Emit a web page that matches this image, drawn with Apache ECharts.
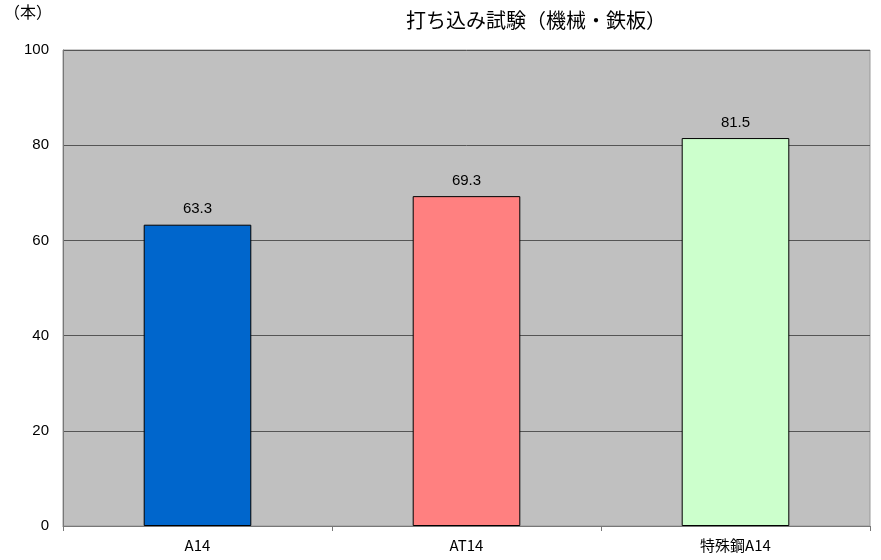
<!DOCTYPE html>
<html><head><meta charset="utf-8">
<script src="https://cdn.jsdelivr.net/npm/echarts@6/dist/echarts.min.js"></script>
<style>html,body{margin:0;padding:0;background:#fff}#c{width:881px;height:560px}</style>
</head><body><div id="c"></div>
<script>
const categories = ['A14', 'AT14', '特殊鋼A14'];
const values = [63.3, 69.3, 81.5];
const barColors = ['#0066CC', '#FF8080', '#CCFFCC'];
const yTicks = [0, 20, 40, 60, 80, 100];

const chart = echarts.init(document.getElementById('c'));
const font = '"Noto Sans CJK JP", "Liberation Sans", sans-serif';
const numFont = '"Liberation Sans", sans-serif';
chart.setOption({
  animation: false,
  backgroundColor: '#fff',
  title: {
    text: '打ち込み試験（機械・鉄板）',
    left: 531, top: 5, textAlign: 'center',
    textStyle: {fontFamily: font, fontSize: 20, fontWeight: 'normal', color: '#000'}
  },
  graphic: [{
    type: 'text', left: 4, top: 4,
    style: {text: '（本）', fontFamily: font, fontSize: 16, fill: '#000'}
  }],
  grid: {left: 63, right: 11, top: 50, bottom: 34, show: true, backgroundColor: '#C0C0C0', borderColor: '#999', borderWidth: 1},
  xAxis: {
    type: 'category', data: categories,
    axisLine: {lineStyle: {color: '#777'}},
    axisTick: {show: true, alignWithLabel: false, length: 5, lineStyle: {color: '#777'}},
    axisLabel: {fontFamily: font, fontSize: 15, color: '#000', margin: 12}
  },
  yAxis: {
    type: 'value', min: yTicks[0], max: yTicks[yTicks.length - 1], interval: 20,
    axisLine: {show: true, lineStyle: {color: '#777'}},
    axisTick: {show: false},
    splitLine: {lineStyle: {color: '#555', width: 1}},
    axisLabel: {fontFamily: numFont, fontSize: 15, color: '#000', margin: 14}
  },
  series: [{
    type: 'bar', barWidth: '40%',
    data: values.map((v, i) => ({value: v, itemStyle: {color: barColors[i]}})),
    itemStyle: {borderColor: '#000', borderWidth: 1},
    label: {show: true, position: 'top', distance: 8, fontFamily: numFont, fontSize: 15, color: '#000'}
  }]
});
</script></body></html>
